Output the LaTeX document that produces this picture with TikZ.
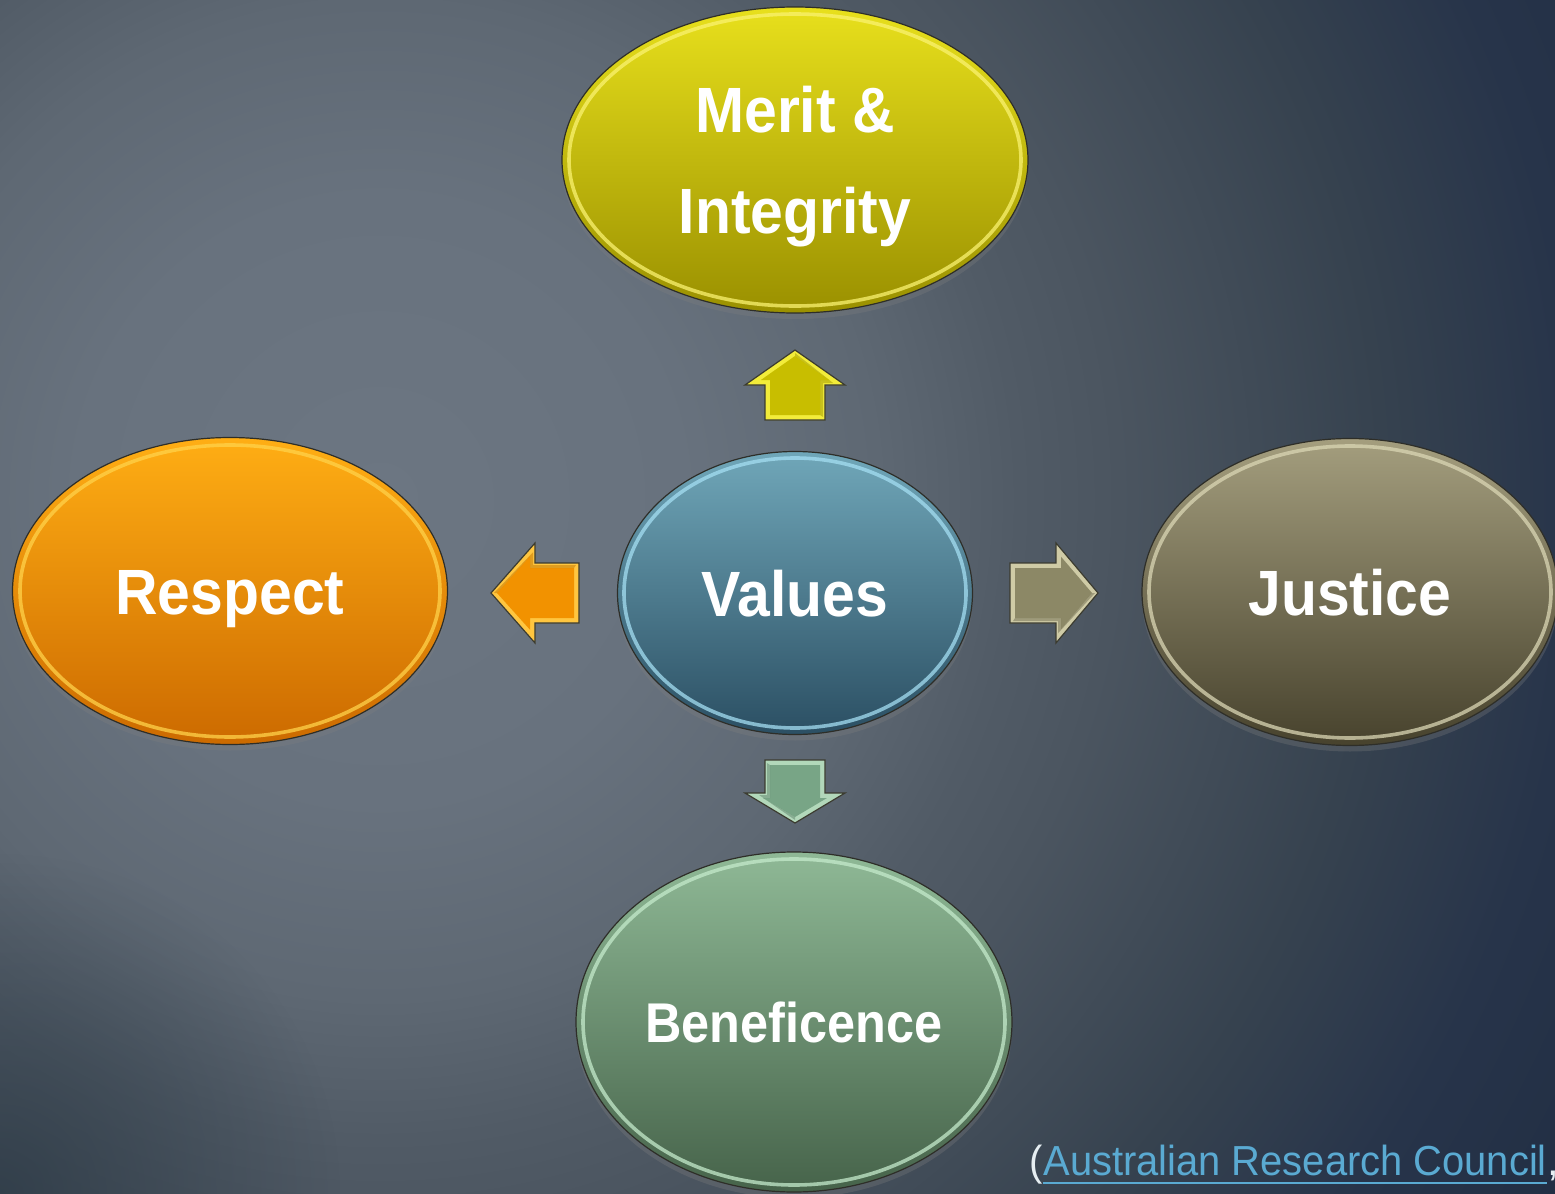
\documentclass[tikz,border=0pt]{standalone}
\usepackage{fontspec}
\setmainfont{Liberation Sans}
\usepackage{graphicx}
\usetikzlibrary{shapes.geometric,shadows,fadings}

% background
\definecolor{bg0}{HTML}{6C7682}
\definecolor{bg1}{HTML}{68727E}
\definecolor{bg2}{HTML}{5E6873}
\definecolor{bg3}{HTML}{515B66}
\definecolor{bg4}{HTML}{4B5560}
\definecolor{bg5}{HTML}{36424F}
\definecolor{bg6}{HTML}{27344A}
\definecolor{bg7}{HTML}{212E43}
\definecolor{bgcorner}{HTML}{2A3844}
\pgfdeclareradialshading{bgglow}{\pgfpoint{0bp}{0bp}}{%
  color(0bp)=(bg0); color(5.4bp)=(bg1); color(8.9bp)=(bg2); color(11.4bp)=(bg3);
  color(13.2bp)=(bg4); color(17.9bp)=(bg5); color(21.4bp)=(bg6); color(25bp)=(bg7); color(50bp)=(bg7)}
\tikzfading[name=softspot, inner color=transparent!0, outer color=transparent!100]

% bubbles
\definecolor{meritT}{HTML}{E8E01C}
\definecolor{meritB}{HTML}{9A9000}
\definecolor{meritR}{HTML}{FAF270}
\definecolor{respT}{HTML}{FFAE14}
\definecolor{respB}{HTML}{CC6A00}
\definecolor{respR}{HTML}{FFD24A}
\definecolor{valT}{HTML}{70A7B9}
\definecolor{valB}{HTML}{2B4F63}
\definecolor{valR}{HTML}{A4DEF2}
\definecolor{jusT}{HTML}{A49E7E}
\definecolor{jusB}{HTML}{47422D}
\definecolor{jusR}{HTML}{DAD6B4}
\definecolor{benT}{HTML}{8FB996}
\definecolor{benB}{HTML}{46634A}
\definecolor{benR}{HTML}{C4EACB}
\definecolor{bubbleedge}{HTML}{2E2E28}

% arrows
\definecolor{yBevel}{HTML}{F2EC3A}
\definecolor{yFace}{HTML}{C8BE00}
\definecolor{oBevel}{HTML}{FFC640}
\definecolor{oFace}{HTML}{F29200}
\definecolor{kBevel}{HTML}{CFCBA6}
\definecolor{kFace}{HTML}{8C8866}
\definecolor{gBevel}{HTML}{B2D8BA}
\definecolor{gFace}{HTML}{78A586}
\definecolor{arrowedge}{HTML}{3C3C30}

% citation
\definecolor{citeblue}{HTML}{5AAAD2}
\definecolor{citeparen}{HTML}{E6EEF2}

\newcommand{\lbl}[1]{\scalebox{0.92}[1]{#1}}

\tikzset{
  bubble/.style={ellipse, inner sep=0pt, draw=bubbleedge, line width=0.6pt,
    text=white, align=center, text height=23pt, text depth=0pt,
    font=\bfseries\fontsize{32}{50.5}\selectfont,
    drop shadow={shadow xshift=0pt, shadow yshift=-3pt, opacity=0.3}},
  rim/.style={line width=1.8pt, opacity=0.75},
  pics/blockarrow/.style n args={4}{code={
    % #1 length, #2 head length, #3 bevel colour, #4 face colour
    \pgfmathsetmacro{\hb}{#1-#2}
    \pgfmathsetmacro{\ihw}{50*(1-5/#2)-5*sqrt(1+(50/#2)^2)}
    \filldraw[fill=#3, draw=arrowedge, line width=0.6pt]
      (0,-30) -- (\hb,-30) -- (\hb,-50) -- (#1,0) -- (\hb,50) -- (\hb,30) -- (0,30) -- cycle;
    \fill[#4]
      (5,-25) -- (\hb+5,-25) -- (\hb+5,-\ihw) -- (#1-6,0) -- (\hb+5,\ihw) -- (\hb+5,25) -- (5,25) -- cycle;
    \fill[#4!80!black, opacity=0.5]
      (5,25) -- (\hb+5,25) -- (\hb+5,\ihw) -- (#1-6,0) -- (#1-3,0) -- (\hb+2,\ihw+4) -- (\hb+2,28) -- (3,28) -- cycle;
  }}
}

\begin{document}
\begin{tikzpicture}[x=0.5pt,y=-0.5pt]
\useasboundingbox (0,0) rectangle (1555,1194);
\clip (0,0) rectangle (1555,1194);

% backdrop: soft glow on the left, dark towards the right and the lower left corner
\fill[bg7] (0,0) rectangle (1555,1194);
\shade[shading=bgglow] (380,500) circle [radius=1400];
\fill[bgcorner, opacity=0.7, path fading=softspot] (0,1194) circle [radius=340];

% bubbles
\node[bubble, minimum width=233pt, minimum height=153pt, top color=meritT, bottom color=meritB,
  text height=, text depth=0pt]
  (merit) at (795,160) {\lbl{Merit \&}\\\lbl{Integrity}};
\node[bubble, minimum width=217.5pt, minimum height=153.5pt, top color=respT, bottom color=respB]
  (respect) at (230,591) {\lbl{Respect}};
\node[bubble, minimum width=177.5pt, minimum height=141.5pt, top color=valT, bottom color=valB]
  (values) at (795,593) {\lbl{Values}};
\node[bubble, minimum width=208pt, minimum height=153.5pt, top color=jusT, bottom color=jusB]
  (justice) at (1350,592) {\lbl{Justice}};
\node[bubble, minimum width=218pt, minimum height=170pt, top color=benT, bottom color=benB,
  font=\bfseries\fontsize{28}{34}\selectfont, text height=20pt]
  (benef) at (794,1022) {\scalebox{0.9}[1]{Beneficence}};

% inner light rims
\draw[rim, meritR] (merit.center) ellipse [x radius=226, y radius=146];
\draw[rim, respR] (respect.center) ellipse [x radius=210, y radius=146];
\draw[rim, valR] (values.center) ellipse [x radius=171, y radius=135];
\draw[rim, jusR] (justice.center) ellipse [x radius=201, y radius=146];
\draw[rim, benR] (benef.center) ellipse [x radius=211, y radius=163];

% block arrows out of the centre
\pic[rotate=90] (uparrow) at (795,420) {blockarrow={70}{35}{yBevel}{yFace}};
\pic[rotate=180] (leftarrow) at (579,593) {blockarrow={88}{44}{oBevel}{oFace}};
\pic (rightarrow) at (1010,593) {blockarrow={88}{42}{kBevel}{kFace}};
\pic[rotate=-90] (downarrow) at (795,760) {blockarrow={63}{30}{gBevel}{gFace}};

% citation
\node[anchor=base west, inner sep=0pt, text=citeparen, font=\fontsize{21}{25}\selectfont]
  (paren) at (1029,1175) {\scalebox{0.95}[1]{(}};
\node[anchor=base west, inner sep=0pt, text=citeblue, font=\fontsize{21}{25}\selectfont]
  (cite) at (paren.base east) {\scalebox{0.95}[1]{Australian Research Council}};
\node[anchor=base west, inner sep=0pt, text=citeparen, font=\fontsize{21}{25}\selectfont]
  (comma) at (cite.base east) {,};
\draw[citeblue, line width=1.1pt] ([yshift=-4pt]cite.base west) -- ([yshift=-4pt]cite.base east);
\end{tikzpicture}
\end{document}
